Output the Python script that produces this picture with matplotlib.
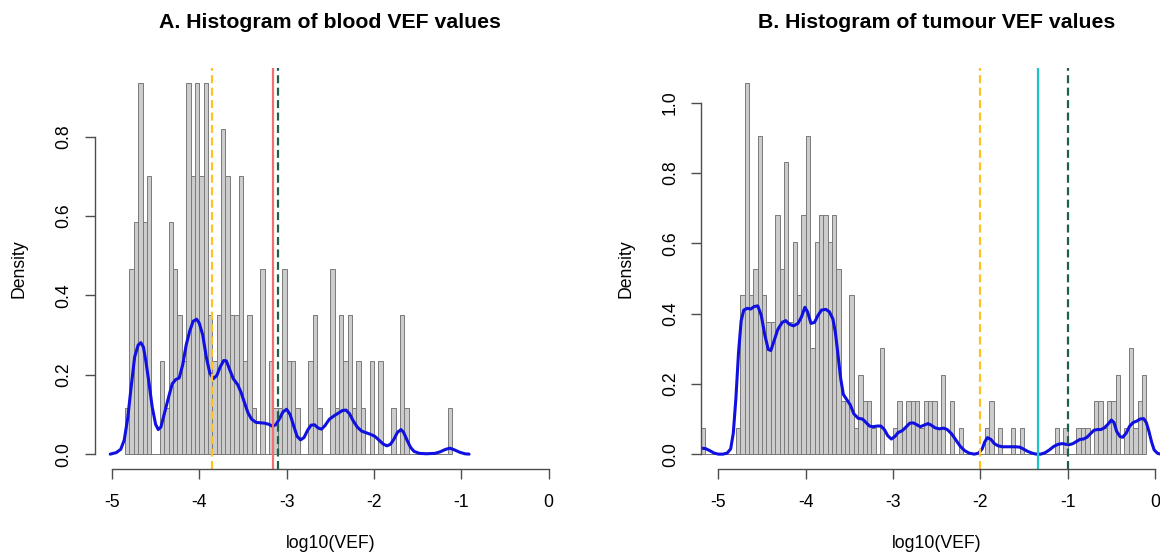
import numpy as np
import matplotlib.pyplot as plt

plt.rcParams['font.family'] = ['Liberation Sans', 'DejaVu Sans']
plt.rcParams['axes.unicode_minus'] = False

bin_width = 0.05
x_ticks = [-5, -4, -3, -2, -1, 0]

# A. blood: histogram counts per 0.05 bin, first bin starts at -4.85
blood_start = -4.85
blood_counts = [1, 4, 5, 8, 5, 6, 0, 0, 2, 1, 5, 4, 3, 2, 8, 6, 8, 6, 8, 3,
                2, 3, 7, 6, 3, 3, 6, 2, 3, 1, 0, 4, 0, 2, 1, 1, 4, 2, 2, 1,
                0, 0, 2, 3, 1, 0, 0, 4, 1, 3, 2, 3, 1, 2, 1, 0, 2, 0, 2, 0,
                0, 1, 0, 3, 1, 0, 0, 0, 0, 0, 0, 0, 0, 0, 1]
blood_kde_x = [-5.02, -4.95, -4.90, -4.86, -4.82, -4.78, -4.74, -4.70, -4.67, -4.64,
               -4.61, -4.57, -4.54, -4.50, -4.47, -4.44, -4.40, -4.35, -4.31, -4.27,
               -4.23, -4.19, -4.15, -4.11, -4.07, -4.03, -4.00, -3.96, -3.92, -3.88,
               -3.84, -3.80, -3.76, -3.72, -3.69, -3.65, -3.61, -3.56, -3.52, -3.48,
               -3.44, -3.40, -3.35, -3.30, -3.25, -3.20, -3.16, -3.12, -3.08, -3.04,
               -3.00, -2.96, -2.92, -2.88, -2.84, -2.80, -2.76, -2.72, -2.68, -2.64,
               -2.60, -2.56, -2.51, -2.46, -2.41, -2.36, -2.32, -2.28, -2.24, -2.19,
               -2.14, -2.09, -2.04, -1.99, -1.94, -1.89, -1.85, -1.81, -1.77, -1.73,
               -1.69, -1.66, -1.62, -1.58, -1.54, -1.48, -1.40, -1.30, -1.24, -1.18,
               -1.13, -1.08, -1.02, -0.96, -0.91]
blood_kde_y = [0.0, 0.004, 0.012, 0.035, 0.09, 0.17, 0.245, 0.275, 0.281, 0.27,
               0.232, 0.17, 0.12, 0.075, 0.062, 0.068, 0.102, 0.145, 0.177, 0.188,
               0.192, 0.225, 0.275, 0.31, 0.335, 0.34, 0.33, 0.30, 0.245, 0.205,
               0.19, 0.198, 0.22, 0.236, 0.235, 0.212, 0.19, 0.175, 0.155, 0.128,
               0.103, 0.088, 0.08, 0.079, 0.078, 0.075, 0.07, 0.075, 0.09, 0.107,
               0.113, 0.1, 0.072, 0.045, 0.036, 0.042, 0.06, 0.073, 0.074, 0.066,
               0.063, 0.072, 0.088, 0.096, 0.103, 0.11, 0.111, 0.102, 0.085, 0.068,
               0.058, 0.054, 0.05, 0.045, 0.035, 0.025, 0.021, 0.025, 0.038, 0.055,
               0.062, 0.055, 0.035, 0.017, 0.007, 0.002, 0.001, 0.002, 0.006, 0.012,
               0.015, 0.011, 0.005, 0.001, 0.0]
blood_vlines = [-3.86, -3.16, -3.10]
blood_yticks = [0.0, 0.2, 0.4, 0.6, 0.8]

# B. tumour: first bin starts at -5.2
tumour_start = -5.2
tumour_counts = [1, 0, 0, 0, 0, 0, 0, 0, 1, 6, 14, 6, 7, 12, 6, 5, 5, 9, 7, 11,
                 5, 8, 6, 9, 12, 4, 8, 9, 9, 8, 9, 7, 2, 2, 6, 1, 3, 2, 2, 1,
                 0, 4, 0, 0, 1, 2, 1, 2, 2, 2, 1, 2, 2, 2, 1, 3, 0, 2, 0, 1,
                 0, 0, 0, 0, 0, 1, 2, 0, 1, 0, 0, 1, 0, 1, 0, 0, 0, 0, 0, 0,
                 0, 1, 0, 1, 0, 0, 1, 1, 1, 0, 2, 2, 1, 2, 2, 3, 0, 1, 4, 1,
                 2, 3]
tumour_kde_x = [-5.20, -5.15, -5.10, -5.05, -5.00, -4.95, -4.90, -4.86, -4.83, -4.80,
                -4.77, -4.74, -4.71, -4.67, -4.63, -4.59, -4.55, -4.51, -4.47, -4.43,
                -4.40, -4.36, -4.32, -4.27, -4.23, -4.19, -4.14, -4.09, -4.05, -4.01,
                -3.98, -3.94, -3.90, -3.86, -3.82, -3.77, -3.73, -3.69, -3.66, -3.63,
                -3.60, -3.57, -3.53, -3.49, -3.45, -3.40, -3.35, -3.31, -3.27, -3.23,
                -3.18, -3.14, -3.10, -3.06, -3.02, -2.98, -2.94, -2.90, -2.86, -2.81,
                -2.77, -2.73, -2.69, -2.65, -2.60, -2.56, -2.52, -2.47, -2.42, -2.38,
                -2.33, -2.28, -2.23, -2.18, -2.13, -2.07, -2.02, -1.98, -1.95, -1.92,
                -1.88, -1.84, -1.80, -1.75, -1.70, -1.65, -1.60, -1.55, -1.51, -1.46,
                -1.41, -1.36, -1.31, -1.26, -1.21, -1.16, -1.11, -1.06, -1.02, -0.98,
                -0.94, -0.90, -0.86, -0.82, -0.78, -0.74, -0.70, -0.66, -0.62, -0.58,
                -0.54, -0.50, -0.47, -0.44, -0.40, -0.37, -0.33, -0.29, -0.25, -0.21,
                -0.17, -0.13, -0.10, -0.07, -0.04, -0.01, 0.03, 0.07]
tumour_kde_y = [0.017, 0.016, 0.01, 0.003, 0.0, 0.0, 0.003, 0.015, 0.06, 0.16,
                0.29, 0.38, 0.41, 0.415, 0.413, 0.42, 0.422, 0.395, 0.34, 0.298,
                0.295, 0.325, 0.355, 0.375, 0.38, 0.37, 0.365, 0.372, 0.39, 0.418,
                0.405, 0.372, 0.375, 0.395, 0.41, 0.412, 0.405, 0.385, 0.345, 0.28,
                0.215, 0.17, 0.155, 0.14, 0.115, 0.102, 0.1, 0.09, 0.08, 0.078,
                0.08, 0.08, 0.07, 0.052, 0.043, 0.05, 0.062, 0.066, 0.075, 0.088,
                0.089, 0.084, 0.078, 0.082, 0.087, 0.082, 0.075, 0.072, 0.074, 0.07,
                0.058, 0.04, 0.022, 0.01, 0.003, 0.0, 0.003, 0.015, 0.035, 0.047,
                0.042, 0.03, 0.024, 0.021, 0.021, 0.021, 0.021, 0.02, 0.015, 0.008,
                0.003, 0.0, 0.0, 0.004, 0.012, 0.022, 0.028, 0.03, 0.028, 0.027,
                0.03, 0.036, 0.042, 0.043, 0.048, 0.058, 0.068, 0.07, 0.07, 0.075,
                0.085, 0.097, 0.09, 0.065, 0.05, 0.048, 0.06, 0.08, 0.09, 0.094,
                0.1, 0.101, 0.09, 0.065, 0.035, 0.012, 0.002, 0.0]
tumour_vlines = [-2.0, -1.34, -1.0]
tumour_yticks = [0.0, 0.2, 0.4, 0.6, 0.8, 1.0]

dash = (0, (3.6, 2.0))
blood_styles = [('#FFC125', dash), ('#F07070', '-'), ('#1F5F4A', dash)]
tumour_styles = [('#FFC125', dash), ('#1CC6C6', '-'), ('#1F5F4A', dash)]


def draw_panel(ax, title, start, counts, kde_x, kde_y, vlines, styles, yticks):
    edges = start + bin_width * np.arange(len(counts) + 1)
    centers = edges[:-1] + bin_width / 2
    dens, _, _ = ax.hist(centers, bins=edges, weights=counts, density=True,
                         color='#CCCCCC', edgecolor='#7A7A7A', linewidth=0.7)
    ax.hlines(0, edges[0], edges[-1], color='#7A7A7A', lw=0.7)
    ax.plot(kde_x, kde_y, color='#1010E0', lw=2.2, solid_capstyle='round')
    for x, (c, ls) in zip(vlines, styles):
        ax.axvline(x, color=c, lw=1.6, ls=ls)

    top = dens.max()
    ax.set_xlim(-5.2, 0.2)
    ax.set_ylim(-0.04 * top, 1.04 * top)
    for s in ['top', 'right']:
        ax.spines[s].set_visible(False)
    ax.spines['bottom'].set_bounds(x_ticks[0], x_ticks[-1])
    ax.spines['left'].set_bounds(yticks[0], yticks[-1])
    for s in ['bottom', 'left']:
        ax.spines[s].set_color('#4D4D4D')
        ax.spines[s].set_linewidth(1.0)
    ax.set_xticks(x_ticks)
    ax.set_xticklabels([str(t) for t in x_ticks])
    ax.set_yticks(yticks)
    ax.set_yticklabels(['%.1f' % t for t in yticks])
    ax.tick_params(direction='out', length=7, width=1.0, color='#4D4D4D',
                   labelsize=12.7, pad=11)
    ax.tick_params(axis='y', pad=9)
    plt.setp(ax.get_yticklabels(), rotation=90, va='center')

    ax.set_title(title, fontsize=15.3, fontweight='bold', y=1.1147, pad=0, va='center')
    ax.set_xlabel('log10(VEF)', fontsize=12.7)
    ax.xaxis.set_label_coords(0.5, -0.185)
    ax.xaxis.label.set_va('center')
    ax.set_ylabel('Density', fontsize=12.7)
    ax.yaxis.set_label_coords(-0.16, 0.5)
    ax.yaxis.label.set_va('center')


fig = plt.figure(figsize=(11.6, 5.53), dpi=100)
ax1 = fig.add_axes([94.5 / 1160, 84 / 553, 471.5 / 1160, 401 / 553])
ax2 = fig.add_axes([701 / 1160, 84 / 553, 471.5 / 1160, 401 / 553])

draw_panel(ax1, 'A. Histogram of blood VEF values', blood_start, blood_counts,
           blood_kde_x, blood_kde_y, blood_vlines, blood_styles, blood_yticks)
draw_panel(ax2, 'B. Histogram of tumour VEF values', tumour_start, tumour_counts,
           tumour_kde_x, tumour_kde_y, tumour_vlines, tumour_styles, tumour_yticks)

fig.savefig('out.png', dpi=100)
